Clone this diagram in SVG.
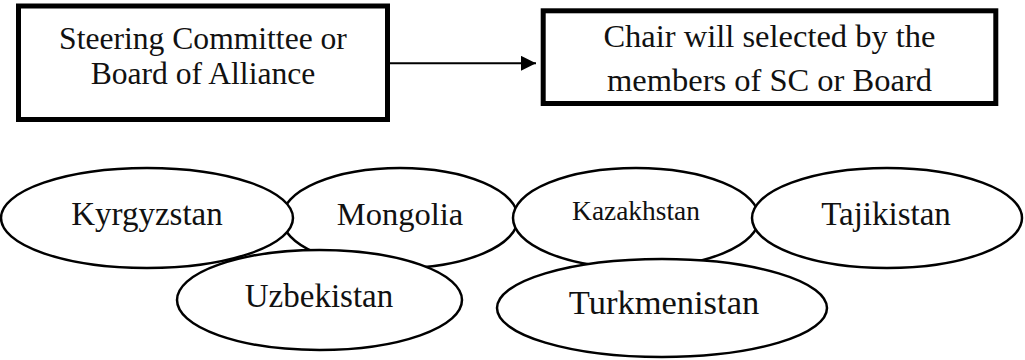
<svg xmlns="http://www.w3.org/2000/svg" width="1025" height="360" viewBox="0 0 1025 360">
  <defs>
    <style>
      .box { fill: #ffffff; stroke: #000000; stroke-width: 5; }
      .ell { fill: #ffffff; stroke: #000000; stroke-width: 2.5; }
      .t { font-family: "Liberation Serif", "Times New Roman", serif; fill: #111111; text-anchor: middle; }
      .conn { stroke: #000000; stroke-width: 2; fill: none; }
    </style>
    <marker id="arrow" markerWidth="16" markerHeight="16" refX="15" refY="7.5" orient="auto" markerUnits="userSpaceOnUse">
      <path d="M0,0 L15,7.5 L0,15 Z" fill="#000000"/>
    </marker>
  </defs>
  <rect width="1025" height="360" fill="#ffffff"/>

  <g id="steering-committee">
    <rect class="box" x="18.5" y="6" width="369" height="113.5"/>
    <text class="t" x="203" y="48.5" font-size="31.6">Steering Committee or</text>
    <text class="t" x="203" y="83.5" font-size="31.6">Board of Alliance</text>
  </g>

  <g id="chair">
    <rect class="box" x="543.2" y="10.8" width="452.6" height="92.7"/>
    <text class="t" x="769.5" y="46.5" font-size="32.5">Chair will selected by the</text>
    <text class="t" x="769.5" y="91" font-size="32.5">members of SC or Board</text>
  </g>

  <g id="connectors">
    <line class="conn" x1="390" y1="63.3" x2="536" y2="63.3" marker-end="url(#arrow)"/>
  </g>

  <g id="mongolia">
    <ellipse class="ell" cx="400" cy="218" rx="118" ry="50"/>
    <text class="t" x="400" y="225" font-size="32.5">Mongolia</text>
  </g>
  <g id="kazakhstan">
    <ellipse class="ell" cx="636" cy="218" rx="123" ry="50"/>
    <text class="t" x="636" y="220" font-size="27.4">Kazakhstan</text>
  </g>
  <g id="kyrgyzstan">
    <ellipse class="ell" cx="147" cy="218" rx="146" ry="50"/>
    <text class="t" x="147" y="225" font-size="33">Kyrgyzstan</text>
  </g>
  <g id="tajikistan">
    <ellipse class="ell" cx="887" cy="218" rx="135" ry="50"/>
    <text class="t" x="886" y="225" font-size="33">Tajikistan</text>
  </g>
  <g id="uzbekistan">
    <ellipse class="ell" cx="319.5" cy="300" rx="142.5" ry="50"/>
    <text class="t" x="319" y="307" font-size="33">Uzbekistan</text>
  </g>
  <g id="turkmenistan">
    <ellipse class="ell" cx="662" cy="308" rx="165" ry="49"/>
    <text class="t" x="664" y="314" font-size="34.5">Turkmenistan</text>
  </g>
</svg>
